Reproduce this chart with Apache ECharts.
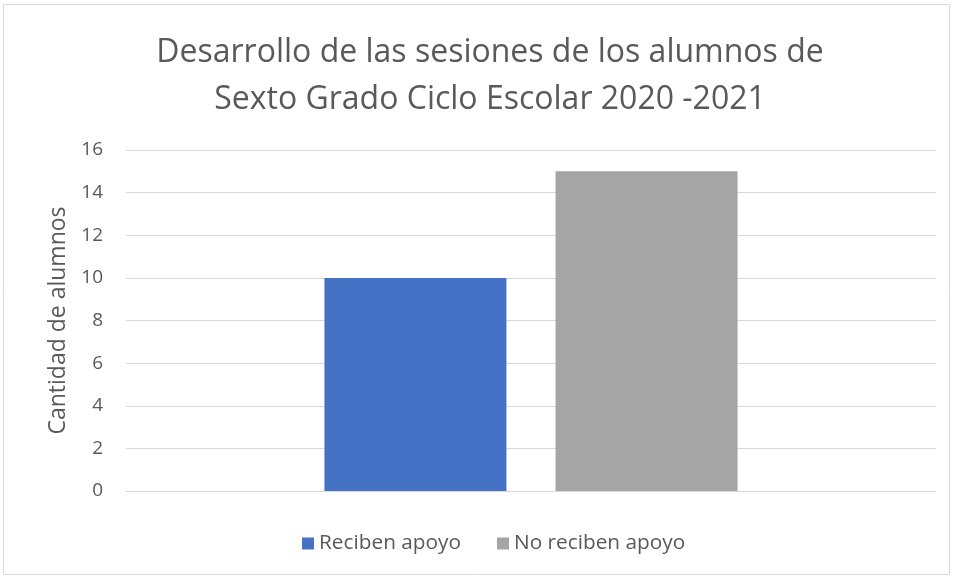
<!DOCTYPE html>
<html>
<head>
<meta charset="utf-8">
<script src="https://cdn.jsdelivr.net/npm/echarts@6/dist/echarts.min.js"></script>
<style>
    html, body { margin: 0; padding: 0; background: #fff; }
    #chart { width: 954px; height: 579px; }
</style>
</head>
<body>
<div id="chart"></div>
<script>
    // datos de la grafica
    var categorias = ['Sexto Grado'];
    var recibenApoyo = [10];
    var noRecibenApoyo = [15];
    var nombresSeries = ['Reciben apoyo', 'No reciben apoyo'];

    var fuente = 'Open Sans';
    var gris = '#595959';

    var myChart = echarts.init(document.getElementById('chart'));
    var option = {
        backgroundColor: '#fff',
        graphic: [{
            type: 'rect',
            shape: { x: 3.5, y: 4.5, width: 946, height: 570 },
            style: { fill: 'none', stroke: '#d9d9d9', lineWidth: 1 },
            silent: true
        }],
        title: {
            text: 'Desarrollo de las sesiones de los alumnos de\nSexto Grado Ciclo Escolar 2020 -2021',
            left: 485,
            textAlign: 'center',
            top: 24,
            textStyle: {
                fontFamily: fuente,
                fontSize: 32,
                fontWeight: 'normal',
                color: gris,
                lineHeight: 47
            }
        },
        legend: {
            bottom: 20,
            left: 297,
            itemWidth: 12,
            itemHeight: 12,
            itemGap: 36,
            icon: 'rect',
            textStyle: { fontFamily: fuente, fontSize: 20.8, color: gris },
            data: nombresSeries
        },
        grid: {
            left: 126,
            right: 18,
            top: 150,
            bottom: 88
        },
        xAxis: {
            type: 'category',
            data: categorias,
            axisTick: { show: false },
            axisLabel: { show: false },
            axisLine: { lineStyle: { color: '#d9d9d9' } }
        },
        yAxis: {
            type: 'value',
            min: 0,
            max: 16,
            interval: 2,
            name: 'Cantidad de alumnos',
            nameLocation: 'middle',
            nameGap: 56,
            nameTextStyle: { fontFamily: fuente, fontSize: 23, color: gris },
            axisLine: { show: false },
            axisTick: { show: false },
            axisLabel: { fontFamily: fuente, fontSize: 19, color: gris, margin: 23 },
            splitLine: { lineStyle: { color: '#d9d9d9', width: 1 } }
        },
        series: [
            {
                name: nombresSeries[0],
                type: 'bar',
                data: recibenApoyo,
                barWidth: 182,
                barGap: '27%',
                itemStyle: { color: '#4472c4' }
            },
            {
                name: nombresSeries[1],
                type: 'bar',
                data: noRecibenApoyo,
                barWidth: 182,
                barGap: '27%',
                itemStyle: { color: '#a5a5a5' }
            }
        ]
    };
    myChart.setOption(option, true);
</script>
</body>
</html>
